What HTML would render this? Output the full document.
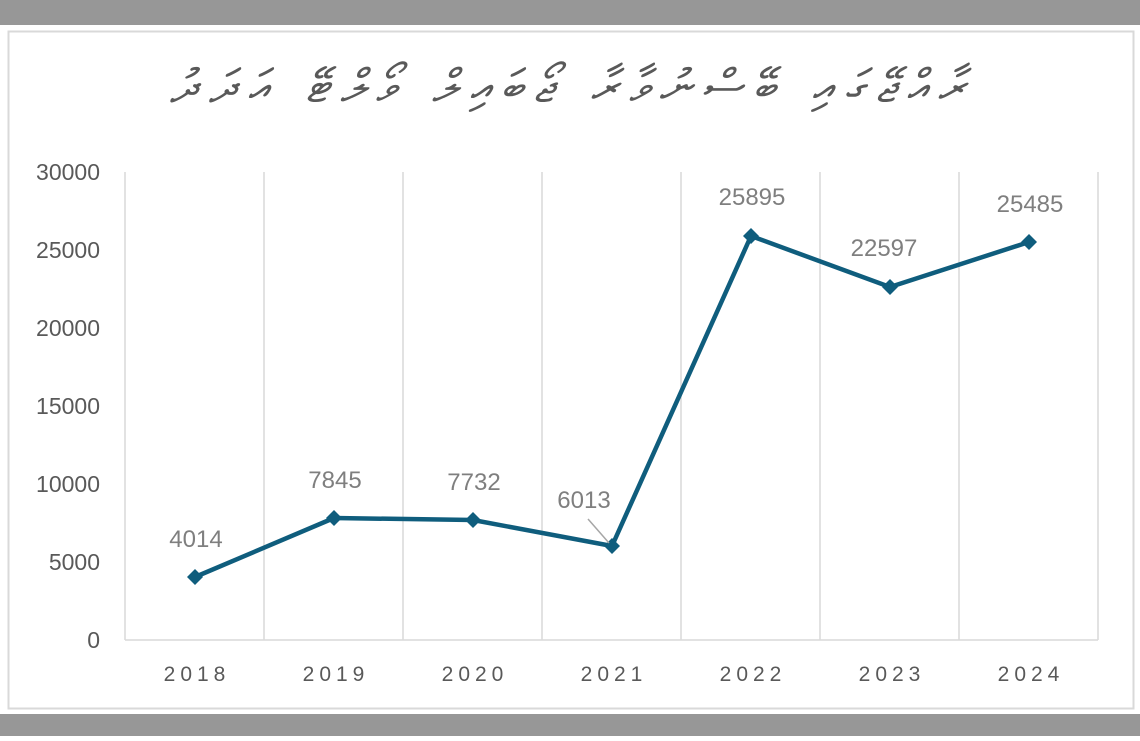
<!DOCTYPE html>
<html><head><meta charset="utf-8"><style>
body{margin:0;width:1140px;height:736px;background:#fff;overflow:hidden}
</style></head><body>
<svg width="1140" height="736" xmlns="http://www.w3.org/2000/svg" font-family="Liberation Sans, DejaVu Sans, sans-serif">
<rect x="0" y="0" width="1140" height="25" fill="#979797"/>
<rect x="0" y="714" width="1140" height="22" fill="#979797"/>
<rect x="8.5" y="31.5" width="1125" height="677" fill="#fff" stroke="#d9d9d9" stroke-width="2"/>
<text x="170" y="102" textLength="795" lengthAdjust="spacing" font-size="46" fill="#595959" font-style="italic" font-family="DejaVu Sans, Noto Sans, sans-serif">ރާއްޖޭގައި ބޭސްނުވާރާ ޖޯބައިލް ވޯލްޓޭ އަދަދު</text>
<g stroke="#d9d9d9" stroke-width="1.5">
<line x1="125" y1="172" x2="125" y2="640"/>
<line x1="264" y1="172" x2="264" y2="640"/>
<line x1="403" y1="172" x2="403" y2="640"/>
<line x1="542" y1="172" x2="542" y2="640"/>
<line x1="681" y1="172" x2="681" y2="640"/>
<line x1="820" y1="172" x2="820" y2="640"/>
<line x1="959" y1="172" x2="959" y2="640"/>
<line x1="1098" y1="172" x2="1098" y2="640"/>
<line x1="125" y1="640" x2="1098" y2="640"/>
</g>
<g font-size="23" fill="#595959" text-anchor="end">
<text x="100" y="180">30000</text>
<text x="100" y="258">25000</text>
<text x="100" y="336">20000</text>
<text x="100" y="414">15000</text>
<text x="100" y="492">10000</text>
<text x="100" y="570">5000</text>
<text x="100" y="648">0</text>
</g>
<g font-size="21" fill="#595959" text-anchor="middle" letter-spacing="5">
<text x="197" y="681">2018</text>
<text x="336" y="681">2019</text>
<text x="475" y="681">2020</text>
<text x="614" y="681">2021</text>
<text x="753" y="681">2022</text>
<text x="892" y="681">2023</text>
<text x="1031" y="681">2024</text>
</g>
<polyline fill="none" stroke="#0f5d7d" stroke-width="4.5" stroke-linejoin="round" points="195,577 334,518 473,520 612,546 751,236 890,287 1029,242"/>
<g fill="#0f5d7d">
<path d="M195,569 l8,8 -8,8 -8,-8z"/>
<path d="M334,510 l8,8 -8,8 -8,-8z"/>
<path d="M473,512 l8,8 -8,8 -8,-8z"/>
<path d="M612,538 l8,8 -8,8 -8,-8z"/>
<path d="M751,228 l8,8 -8,8 -8,-8z"/>
<path d="M890,279 l8,8 -8,8 -8,-8z"/>
<path d="M1029,234 l8,8 -8,8 -8,-8z"/>
</g>
<line x1="588" y1="519" x2="609" y2="543" stroke="#a6a6a6" stroke-width="1.5"/>
<g font-size="24" fill="#7f7f7f" text-anchor="middle">
<text x="196" y="547">4014</text>
<text x="335" y="488">7845</text>
<text x="474" y="490">7732</text>
<text x="584" y="508">6013</text>
<text x="752" y="205">25895</text>
<text x="884" y="256">22597</text>
<text x="1030" y="212">25485</text>
</g>
</svg>
</body></html>
